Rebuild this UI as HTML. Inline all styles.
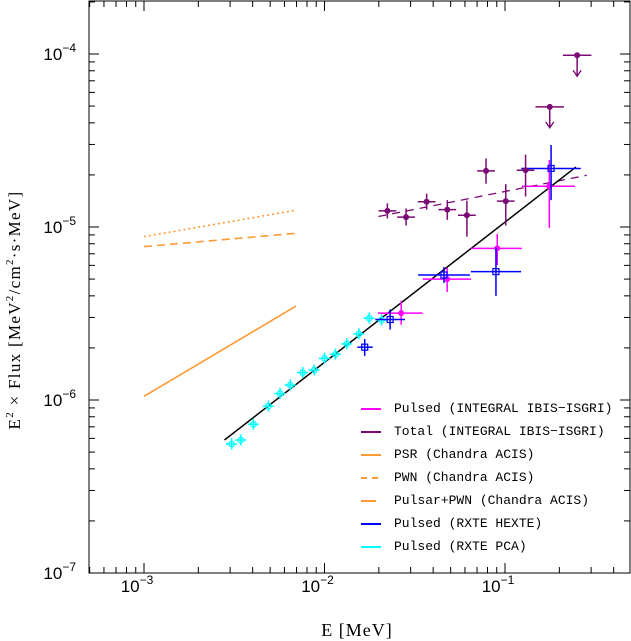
<!DOCTYPE html>
<html><head><meta charset="utf-8"><style>
html,body{margin:0;padding:0;background:#fff;}
svg{display:block;}
</style></head><body>
<svg id="chart" width="631" height="641" xmlns="http://www.w3.org/2000/svg" font-family="Liberation Sans, sans-serif">
<rect x="89" y="1" width="541" height="572" fill="none" stroke="#000" stroke-width="1"/>
<g id="ticks"></g>
<g id="labels"></g>
<g id="marks"></g>
<text x="357" y="636" font-family="Liberation Serif, serif" font-size="18" letter-spacing="1" text-anchor="middle">E [MeV]</text>
<text transform="translate(20,310) rotate(-90)" font-family="Liberation Serif, serif" font-size="17" letter-spacing="1.3" text-anchor="middle">E<tspan font-size="11" dy="-7">2</tspan><tspan dy="7"> × Flux [MeV</tspan><tspan font-size="11" dy="-7">2</tspan><tspan dy="7">/cm</tspan><tspan font-size="11" dy="-7">2</tspan><tspan dy="7">·s·MeV]</tspan></text>
<g id="legend" font-family="Liberation Mono, monospace" font-size="13"></g>
</svg>
<script>
const NS='http://www.w3.org/2000/svg';
// axis
const xDecades=[-3,-2,-1];
const yDecades=[-7,-6,-5,-4];
// cyan RXTE PCA pulsed
const pcaE=[3.06e-3,3.44e-3,4.04e-3,4.89e-3,5.67e-3,6.47e-3,7.57e-3,8.78e-3,1.0e-2,1.15e-2,1.33e-2,1.55e-2,1.77e-2,2.07e-2];
const pcaF=[5.57e-7,5.87e-7,7.24e-7,9.2e-7,1.09e-6,1.22e-6,1.44e-6,1.49e-6,1.74e-6,1.84e-6,2.11e-6,2.41e-6,2.97e-6,2.90e-6];
// blue RXTE HEXTE
const hexE=[1.67e-2,2.31e-2,4.59e-2,8.91e-2,0.180];
const hexElo=[1.52e-2,1.91e-2,3.30e-2,6.47e-2,0.123];
const hexEhi=[1.85e-2,2.79e-2,6.39e-2,0.1227,0.263];
const hexF=[2.02e-6,2.92e-6,5.28e-6,5.52e-6,2.18e-5];
const hexFlo=[1.8e-6,2.55e-6,4.75e-6,4.0e-6,1.43e-5];
const hexFhi=[2.25e-6,3.34e-6,5.87e-6,7.6e-6,2.98e-5];
// magenta INTEGRAL pulsed
const intE=[2.66e-2,4.78e-2,9.06e-2,0.176];
const intElo=[1.98e-2,3.50e-2,6.49e-2,0.124];
const intEhi=[3.50e-2,6.49e-2,0.124,0.244];
const intF=[3.18e-6,5.0e-6,7.53e-6,1.72e-5];
const intFlo=[2.72e-6,4.21e-6,6.03e-6,9.87e-6];
const intFhi=[3.75e-6,5.79e-6,9.12e-6,2.44e-5];
// purple INTEGRAL total
const totE=[2.23e-2,2.83e-2,3.68e-2,4.79e-2,6.15e-2,7.85e-2,0.101,0.130];
const totF=[1.24e-5,1.14e-5,1.40e-5,1.26e-5,1.17e-5,2.11e-5,1.41e-5,2.13e-5];
const totFlo=[1.12e-5,1.02e-5,1.26e-5,1.10e-5,0.88e-5,1.78e-5,1.02e-5,1.5e-5];
const totFhi=[1.37e-5,1.28e-5,1.56e-5,1.43e-5,1.42e-5,2.49e-5,1.77e-5,2.62e-5];
const ulE=[0.177,0.251];
const ulF=[4.95e-5,9.83e-5];
// model lines [E1,E2],[F1,F2]
const fitE=[2.79e-3,0.247], fitF=[5.87e-7,2.22e-5];
const totFitE=[1.99e-2,0.284], totFitF=[1.15e-5,1.99e-5];
const psrE=[1e-3,6.95e-3], psrF=[1.05e-6,3.49e-6];
const pwnE=[1e-3,6.95e-3], pwnF=[7.7e-6,9.2e-6];
const sumE=[1e-3,6.95e-3], sumF=[8.8e-6,1.25e-5];

const X=v=>144+180.5*(Math.log10(v)+3);
const Y=v=>54-173*(Math.log10(v)+4);
const C={mag:'#ff00ff',pur:'#7a0a74',org:'#ff9933',blu:'#0000ff',cyn:'#00ffff'};
function el(tag,attrs,parent){const e=document.createElementNS(NS,tag);for(const k in attrs)e.setAttribute(k,attrs[k]);parent.appendChild(e);return e;}
const ticks=document.getElementById('ticks'),labels=document.getElementById('labels'),marks=document.getElementById('marks'),legend=document.getElementById('legend');
function ln(p,x1,y1,x2,y2,st,w,extra){const l=el('line',Object.assign({x1,y1,x2,y2,stroke:st,'stroke-width':w||1},extra||{}),p);return l;}
// x ticks
for(let d=-4;d<=0;d++){for(let m=1;m<10;m++){const v=m*Math.pow(10,d);const x=X(v);if(x<89||x>630)continue;const L=m===1?10:6;
const t=ln(ticks,x,573,x,573-L,'#000',1);


const t2=ln(ticks,x,1,x,1+L,'#000',1);

}}
for(let d=-8;d<=-3;d++){for(let m=1;m<10;m++){const v=m*Math.pow(10,d);const y=Y(v);if(y<1||y>573)continue;const L=m===1?10:6;
const t=ln(ticks,89,y,89+L,y,'#000',1);


const t2=ln(ticks,630,y,630-L,y,'#000',1);

}}
xDecades.forEach(d=>{const t=el('text',{x:X(Math.pow(10,d))-7,y:592,'font-size':17,'text-anchor':'middle'},labels);


t.innerHTML='10<tspan font-size="12" dy="-8">'+'\u2212'+(-d)+'</tspan>';});
yDecades.forEach(d=>{const t=el('text',{x:76,y:Y(Math.pow(10,d))+6,'font-size':17,'text-anchor':'end'},labels);


t.innerHTML='10<tspan font-size="12" dy="-8">'+'\u2212'+(-d)+'</tspan>';});
// model lines
function mline(E,F,col,name,dash,w){const l=ln(marks,X(E[0]),Y(F[0]),X(E[1]),Y(F[1]),col,w||1.5,dash?{'stroke-dasharray':dash}:{});

}
mline(psrE,psrF,C.org,'psr-line',null,1.6);
mline(pwnE,pwnF,C.org,'pwn-line','8,5',1.6);
mline(sumE,sumF,C.org,'pulsar-pwn-line','2,3',1.6);
mline(totFitE,totFitF,C.pur,'total-fit-line','8,6',1.3);
mline(fitE,fitF,'#000','pulsed-fit-line',null,1.5);
// cyan
pcaE.forEach((e,i)=>{const x=X(e),y=Y(pcaF[i]);const g=el('g',{},marks);


ln(g,X(e*0.93),y,X(e*1.07),y,C.cyn,1.5);ln(g,x,Y(pcaF[i]*0.93),x,Y(pcaF[i]*1.08),C.cyn,1.5);
el('circle',{cx:x,cy:y,r:2.8,fill:'none',stroke:C.cyn,'stroke-width':1.2},g);});
// magenta
intE.forEach((e,i)=>{const x=X(e),y=Y(intF[i]);const g=el('g',{},marks);


ln(g,X(intElo[i]),y,X(intEhi[i]),y,C.mag,1.5);ln(g,x,Y(intFlo[i]),x,Y(intFhi[i]),C.mag,1.5);
el('circle',{cx:x,cy:y,r:3,fill:C.mag},g);});
// blue
hexE.forEach((e,i)=>{const x=X(e),y=Y(hexF[i]);const g=el('g',{},marks);


ln(g,X(hexElo[i]),y,X(hexEhi[i]),y,C.blu,1.5);ln(g,x,Y(hexFlo[i]),x,Y(hexFhi[i]),C.blu,1.5);
el('rect',{x:x-3,y:y-3,width:6,height:6,fill:'none',stroke:C.blu,'stroke-width':1.2},g);});
// purple
totE.forEach((e,i)=>{const x=X(e),y=Y(totF[i]);const g=el('g',{},marks);


ln(g,X(e/1.12),y,X(e*1.12),y,C.pur,1.5);ln(g,x,Y(totFlo[i]),x,Y(totFhi[i]),C.pur,1.5);
el('circle',{cx:x,cy:y,r:3,fill:C.pur},g);});
ulE.forEach((e,i)=>{const x=X(e),y=Y(ulF[i]);const g=el('g',{},marks);


ln(g,X(e/1.2),y,X(e*1.2),y,C.pur,1.5);ln(g,x,y,x,y+21,C.pur,1.5);
el('polyline',{points:(x-4)+','+(y+15)+' '+x+','+(y+21)+' '+(x+4)+','+(y+15),fill:'none',stroke:C.pur,'stroke-width':1.3},g);
el('circle',{cx:x,cy:y,r:3,fill:C.pur},g);});
// legend
const legLabels=['Pulsed (INTEGRAL IBIS\u2212ISGRI)','Total (INTEGRAL IBIS\u2212ISGRI)','PSR (Chandra ACIS)','PWN (Chandra ACIS)','Pulsar+PWN (Chandra ACIS)','Pulsed (RXTE HEXTE)','Pulsed (RXTE PCA)'];
const legColors=[C.mag,C.pur,C.org,C.org,C.org,C.blu,C.cyn];
const legDash=[null,null,null,'6,5',null,null,null];
legLabels.forEach((t,i)=>{const y=407+23*i;const g=el('g',{},legend);


const l=ln(g,361,y+2,i===4?376:381,y+2,legColors[i],2,legDash[i]?{'stroke-dasharray':legDash[i]}:{});
const tx=el('text',{x:394,y:y+5},g);tx.textContent=t;});
</script>
</body></html>
